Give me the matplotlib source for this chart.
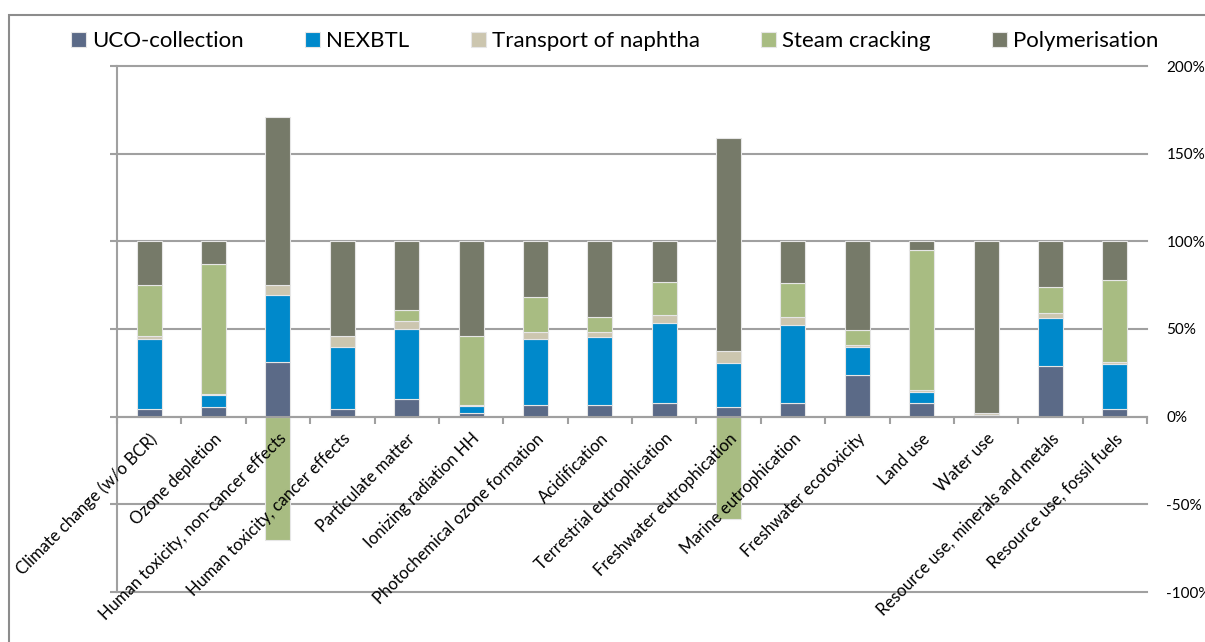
import numpy as np
import matplotlib.pyplot as plt
from matplotlib.patches import Rectangle
from matplotlib.ticker import FuncFormatter
from matplotlib.transforms import ScaledTranslation

categories = [
    "Climate change (w/o BCR)", "Ozone depletion",
    "Human toxicity, non-cancer effects", "Human toxicity, cancer effects",
    "Particulate matter", "Ionizing radiation HH",
    "Photochemical ozone formation", "Acidification",
    "Terrestrial eutrophication", "Freshwater eutrophication",
    "Marine eutrophication", "Freshwater ecotoxicity", "Land use",
    "Water use", "Resource use, minerals and metals",
    "Resource use, fossil fuels",
]

# contributions in %
uco = [4.2, 5.3, 31.0, 4.2, 9.9, 2.3, 6.6, 6.6, 7.6, 5.5, 7.6, 23.6, 7.6, 0.3, 29.0, 4.2]
nexbtl = [39.9, 6.9, 38.6, 35.3, 40.3, 4.0, 37.5, 38.6, 46.0, 25.3, 44.7, 15.9, 6.4, 0.7, 27.4, 25.8]
transport = [1.9, 0.8, 5.3, 6.5, 4.4, 0.4, 4.4, 3.1, 4.4, 6.7, 4.5, 1.4, 1.2, 1.0, 2.7, 1.0]
steam = [29.1, 73.8, -70.4, 0.0, 6.4, 39.3, 19.9, 8.5, 19.0, -58.5, 19.2, 8.5, 79.8, 0.3, 14.6, 46.9]
polymer = [24.9, 13.2, 96.2, 54.0, 39.0, 54.0, 31.6, 43.2, 23.0, 121.6, 24.0, 50.6, 5.0, 97.7, 26.3, 22.1]

series_names = ["UCO-collection", "NEXBTL", "Transport of naphtha", "Steam cracking", "Polymerisation"]
colors = ["#5B6A87", "#0089CB", "#CCC6AF", "#A8BC82", "#767A69"]
yticks = [-100, -50, 0, 50, 100, 150, 200]

GRID = "#A0A0A0"


def draw_chart() -> None:
    plt.rcParams["font.family"] = ["Lato", "DejaVu Sans"]
    fig = plt.figure(figsize=(12.05, 6.42), dpi=100)
    ax = fig.add_axes([117 / 1205, 50 / 642, 1030 / 1205, 526 / 642])

    x = np.arange(len(categories))
    pos_bottom = np.zeros(len(categories))
    neg_bottom = np.zeros(len(categories))
    handles = []
    for name, vals, col in zip(series_names, [uco, nexbtl, transport, steam, polymer], colors):
        vals = np.array(vals)
        bottom = np.where(vals >= 0, pos_bottom, neg_bottom)
        b = ax.bar(x, vals, 0.39, bottom=bottom, color=col, edgecolor="#E6E6E6",
                   linewidth=0.8, label=name, zorder=2)
        handles.append(b)
        pos_bottom += np.clip(vals, 0, None)
        neg_bottom += np.clip(vals, None, 0)

    ax.set_xlim(-0.5, len(categories) - 0.5)
    ax.set_ylim(-100, 200)
    ax.set_yticks(yticks)
    ax.yaxis.set_major_formatter(FuncFormatter(lambda v, p: f"{v:.0f}%"))
    ax.tick_params(axis="y", left=True, right=False, labelleft=False, labelright=True,
                   direction="out", length=5, width=1.5, color=GRID, labelsize=11, pad=9)
    ax.yaxis.grid(True, color=GRID, linewidth=1.5)
    for gl in ax.get_ygridlines():
        gl.set_clip_on(False)
    ax.set_axisbelow(True)
    # category labels are written over the bars
    ax.xaxis.set_zorder(3)

    # x axis runs along 0 %
    ax.spines["bottom"].set_position(("data", 0))
    ax.spines["bottom"].set_color(GRID)
    ax.spines["bottom"].set_linewidth(1.5)
    ax.spines["bottom"].set_zorder(3)
    ax.spines["left"].set_color(GRID)
    ax.spines["left"].set_linewidth(1.5)
    ax.spines["top"].set_visible(False)
    ax.spines["right"].set_visible(False)

    ax.set_xticks(x)
    ax.set_xticklabels(categories, rotation=45, ha="right", va="top",
                       rotation_mode="anchor", fontsize=12)
    # shift labels a bit to the right, as Excel places them
    shift = ScaledTranslation(11 / 100, 0, fig.dpi_scale_trans)
    for lab in ax.get_xticklabels():
        lab.set_transform(lab.get_transform() + shift)
    ax.set_xticks(np.arange(len(categories) + 1) - 0.5, minor=True)
    ax.tick_params(axis="x", which="major", length=0, pad=10)
    ax.tick_params(axis="x", which="minor", length=5, width=1.5, color=GRID, direction="out")

    fig.legend(handles=handles, loc="center left", bbox_to_anchor=(71 / 1205, 1 - 41 / 642),
               ncol=5, frameon=False, fontsize=16, borderpad=0, borderaxespad=0,
               handlelength=0.68, handleheight=0.68, handletextpad=0.28, columnspacing=2.75)

    # chart frame (cut at right and bottom like the original)
    fig.patches.append(Rectangle((9 / 1205, -0.1), 2, 1.1 - 15 / 642,
                                 transform=fig.transFigure, fill=False,
                                 edgecolor="#8C8C8C", linewidth=1.5))
    fig.savefig("out.png", dpi=100)


def main() -> None:
    draw_chart()


if __name__ == "__main__":
    main()
